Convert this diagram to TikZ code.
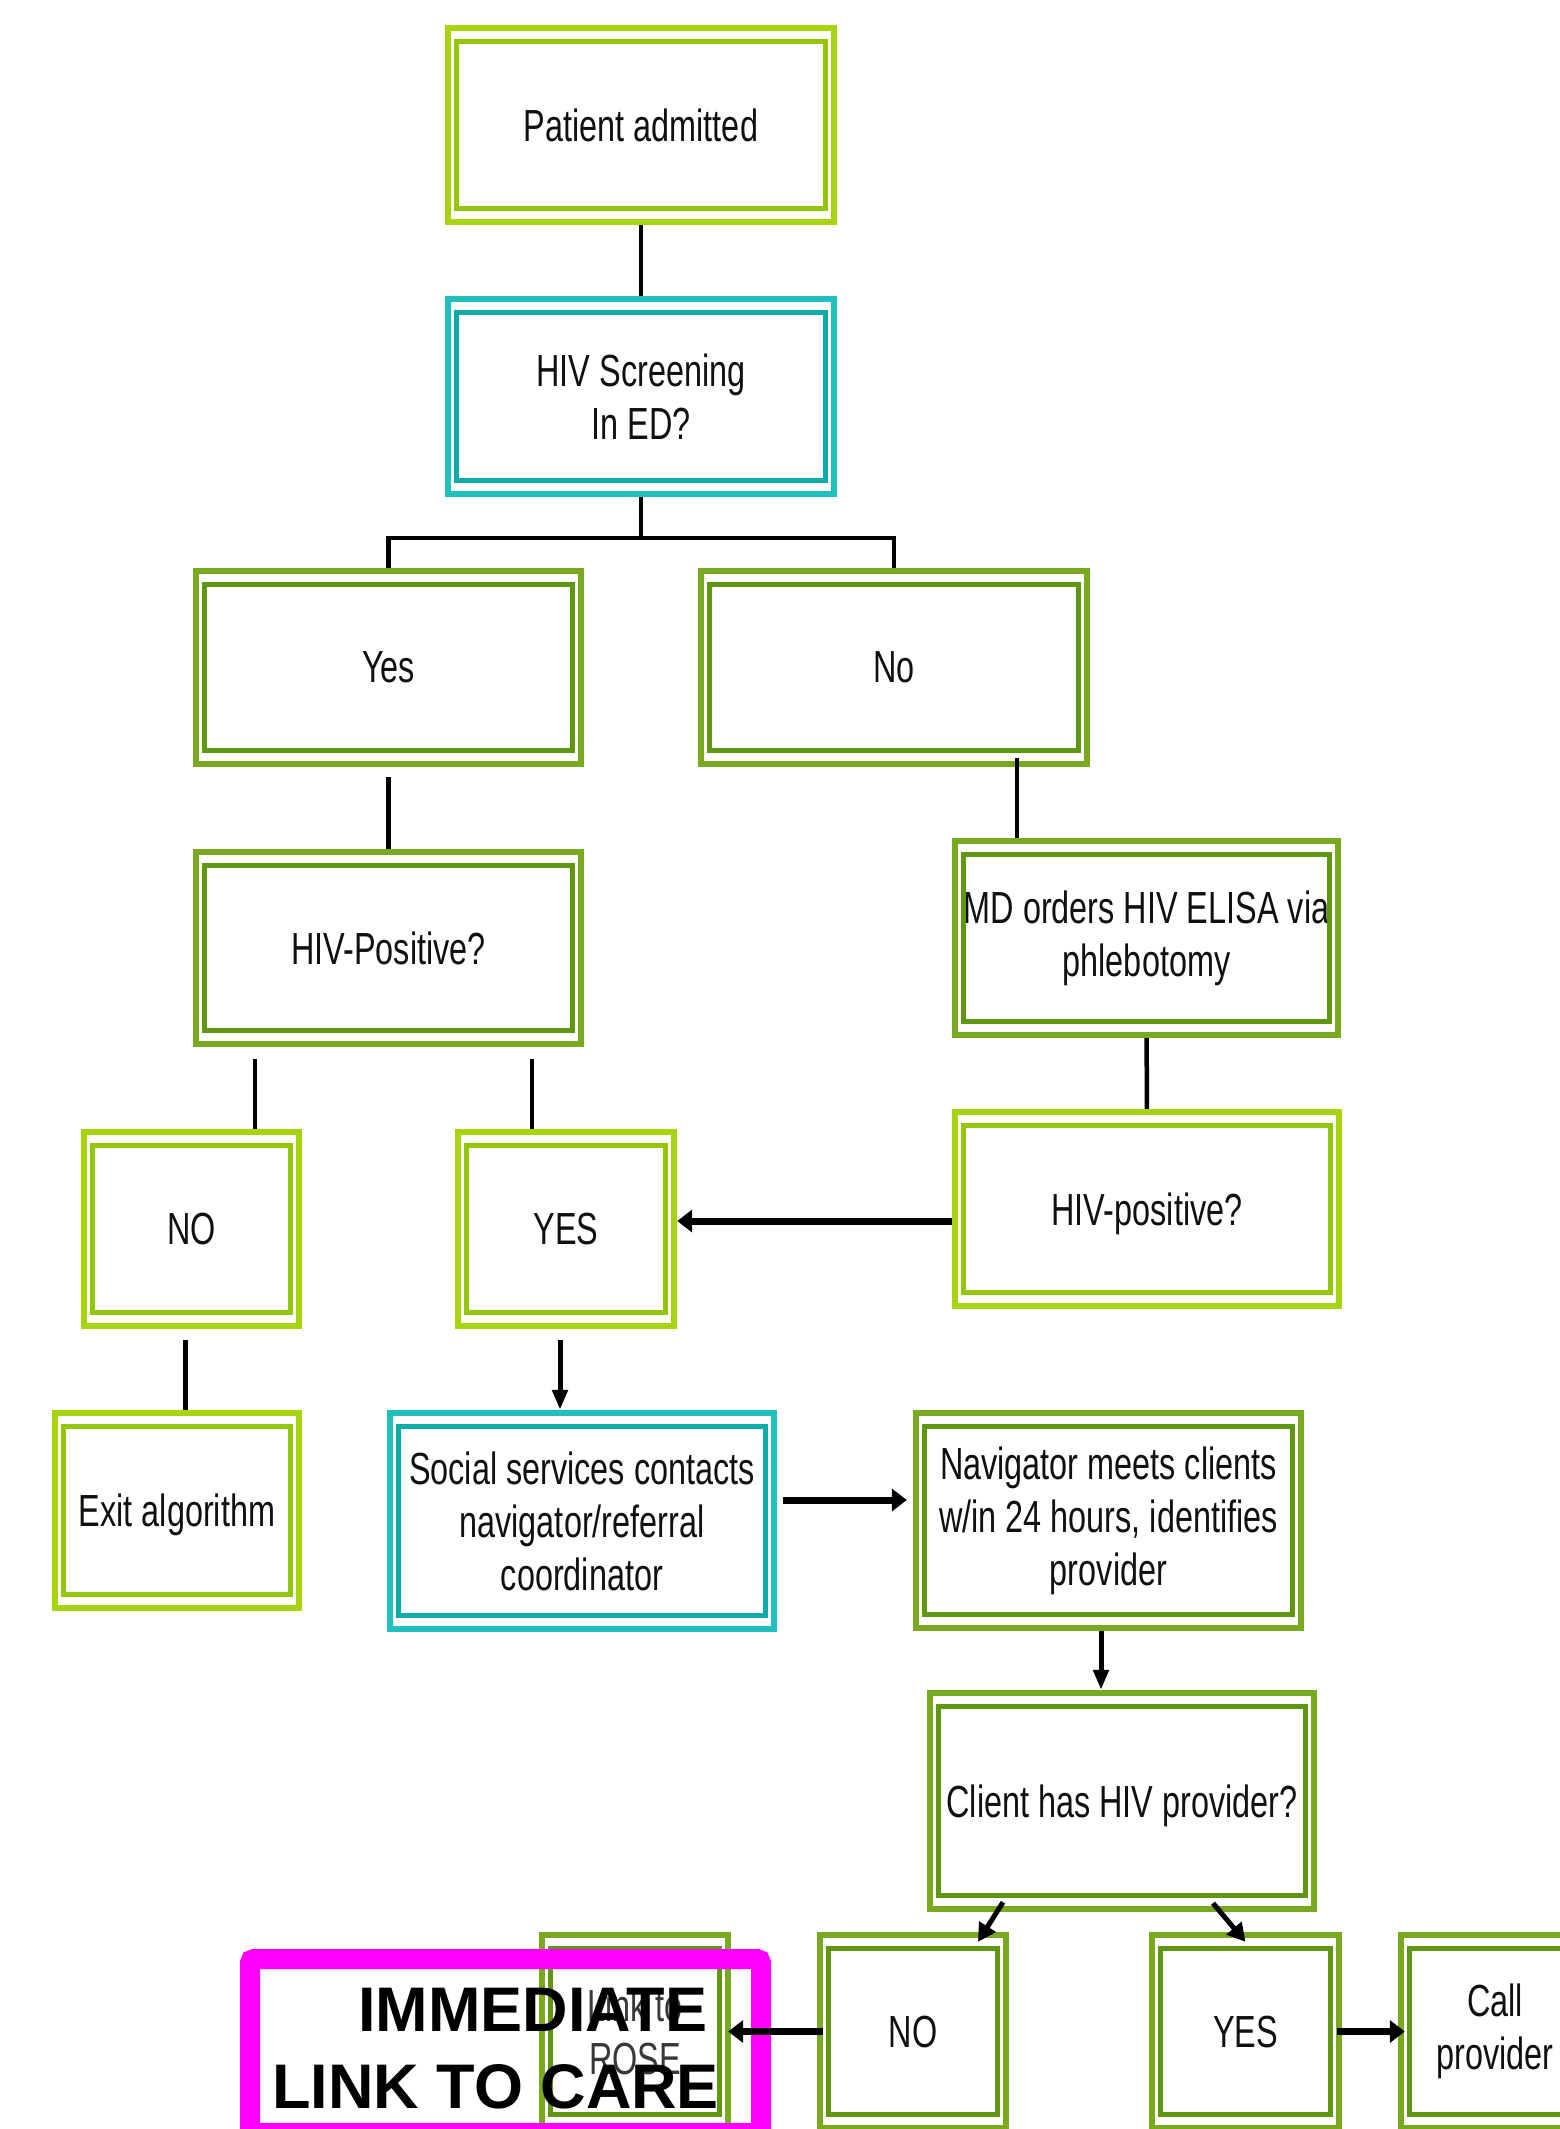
\documentclass[tikz,border=0pt]{standalone}
\usepackage{fontspec}
\newfontfamily\nar[FakeStretch=0.72]{Liberation Sans}
\newfontfamily\arb{Liberation Sans}
\usetikzlibrary{arrows.meta,calc}
\definecolor{lgO}{HTML}{A6D40F}
\definecolor{lgI}{HTML}{94C60A}
\definecolor{dgO}{HTML}{78A91E}
\definecolor{dgI}{HTML}{5F9612}
\definecolor{tlO}{HTML}{22BFBF}
\definecolor{tlI}{HTML}{0FAAAA}
\definecolor{txt}{HTML}{101010}
\definecolor{mag}{HTML}{FF00FF}
\tikzset{
  basebox/.style={rectangle, draw=none, inner sep=0pt, align=center, text=txt,
    font=\nar\fontsize{45}{53}\selectfont},
  one/.style={text depth=0pt},
  lgbox/.style={basebox}, dgbox/.style={basebox}, tlbox/.style={basebox},
  lgout/.style={draw=lgO, line width=6.5pt}, lgin/.style={draw=lgI, line width=5.5pt},
  dgout/.style={draw=dgO, line width=6.5pt}, dgin/.style={draw=dgI, line width=5.5pt},
  tlout/.style={draw=tlO, line width=6.5pt}, tlin/.style={draw=tlI, line width=5.5pt},
  ln/.style={draw=black, line width=4.5pt},
  arrT/.style={draw=black, line width=5pt, -{Triangle[length=20pt,width=15pt]}},
  arrK/.style={draw=black, line width=7pt, -{Triangle[length=15pt,width=22pt]}},
  arrD/.style={draw=black, line width=5pt, -{Triangle[length=18pt,width=19pt]}},
  carebox/.style={rectangle, draw=mag, line width=20pt, rounded corners=4pt, inner sep=0pt},
  caretext/.style={anchor=base west, inner sep=0pt, text=black,
    font=\arb\bfseries\fontsize{63}{70}\selectfont},
}
% #1 extra options, #2 kind, #3 name, #4 x1, #5 y1, #6 x2, #7 y2, #8 text
\newcommand\dblbox[8][]{%
  \node[#2box,#1,minimum width={#6-#4},minimum height={#7-#5}] (#3) at ({(#4+#6)/2},{(#5+#7)/2}) {#8};
  \draw[#2out] ([shift={(3.25,3.25)}]#3.north west) rectangle ([shift={(-3.25,-3.25)}]#3.south east);
  \draw[#2in] ([shift={(11.5,16.5)}]#3.north west) rectangle ([shift={(-11.5,-16.5)}]#3.south east);
}
\begin{document}
\begin{tikzpicture}[x=1pt,y=-1pt]
\useasboundingbox (0,0) rectangle (1560,2129);
\fill[white] (0,0) rectangle (1560,2129);
\clip (0,0) rectangle (1560,2129);

\dblbox[one]{lg}{pa}{445}{25}{837}{225}{Patient admitted}
\dblbox{tl}{scr}{445}{296}{837}{497}{HIV Screening\\In ED?}
\dblbox[one]{dg}{yes}{193}{568}{584}{767}{Yes}
\dblbox[one]{dg}{no}{698}{568}{1090}{767}{No}
\dblbox[one]{dg}{hpos}{193}{849}{584}{1047}{HIV-Positive?}
\dblbox{dg}{md}{952}{838}{1341}{1038}{MD orders HIV ELISA via\\phlebotomy}
\dblbox[one]{lg}{hp2}{952}{1109}{1342}{1309}{HIV-positive?}
\dblbox[one]{lg}{n1}{81}{1129}{302}{1329}{NO}
\dblbox[one]{lg}{y1}{455}{1129}{677}{1329}{YES}
\dblbox[one]{lg}{exit}{52}{1410}{302}{1611}{Exit algorithm}
\dblbox{tl}{soc}{387}{1410}{777}{1632}{Social services contacts\\navigator/referral\\coordinator}
\dblbox{dg}{nav}{913}{1410}{1304}{1631}{Navigator meets clients\\w/in 24 hours, identifies\\provider}
\dblbox[one]{dg}{cli}{927}{1690}{1317}{1912}{Client has HIV provider?}
\dblbox[one]{dg}{n2}{817}{1932}{1009}{2131}{NO}
\dblbox[one]{dg}{y2}{1149}{1932}{1342}{2131}{YES}
\dblbox{dg}{call}{1398}{1932}{1592}{2131}{Call\\provider}
\dblbox[text=black!78]{dg}{link}{539}{1932}{731}{2131}{Link to\\ROSE}

% connectors
\draw[ln] (pa) -- (scr);
\draw[ln] (scr.south) -- ++(0,41) coordinate (br) -| (yes.north);
\draw[ln] (br) -| (no.north);
\draw[ln, shorten <=10pt] (yes) -- (hpos);
\draw[ln, shorten <=-9pt] ([xshift=123pt]no.south) -- ([xshift=123pt]no.south |- md.north);
\draw[ln] (md) -- (hp2);
\draw[ln, shorten <=12pt] ([xshift=-133.5pt]hpos.south) -- ([xshift=-133.5pt]hpos.south |- n1.north);
\draw[ln, shorten <=12pt] ([xshift=143.5pt]hpos.south) -- ([xshift=143.5pt]hpos.south |- y1.north);
\draw[ln, shorten <=11pt] ([xshift=-6pt]n1.south) -- ([xshift=-6pt]n1.south |- exit.north);
\draw[arrT, shorten <=11pt] ([xshift=-6pt]y1.south) -- ([xshift=-6pt]y1.south |- soc.north);
\draw[arrK] ([yshift=-12pt]hp2.west) -- ([yshift=-12pt]hp2.west -| y1.east);
\draw[arrK, shorten <=6pt, shorten >=6pt] ([yshift=21pt]soc.east) -- ([yshift=21pt]soc.east -| nav.west);
\draw[arrT] ([xshift=-7.5pt]nav.south) -- ([xshift=-7.5pt]nav.south |- cli.north);
\draw[arrD] ([xshift=-119pt,yshift=10pt]cli.south) -- ([xshift=65pt,yshift=-10pt]n2.north);
\draw[arrD] ([xshift=91pt,yshift=9pt]cli.south) -- ([yshift=-10pt]y2.north);
\draw[arrK, shorten <=-5pt, shorten >=-7pt] (y2) -- (call);

% highlight box
\node[carebox, minimum width=511pt, minimum height=174pt] (care) at (505.5,2046) {};
\node[caretext] (imm1) at (358,2031) {IMMEDIATE};
\node[caretext] (imm2) at (272,2108) {LINK TO CARE};

\draw[arrK, shorten <=-6pt, shorten >=-3pt] (n2) -- (link);
\end{tikzpicture}
\end{document}
